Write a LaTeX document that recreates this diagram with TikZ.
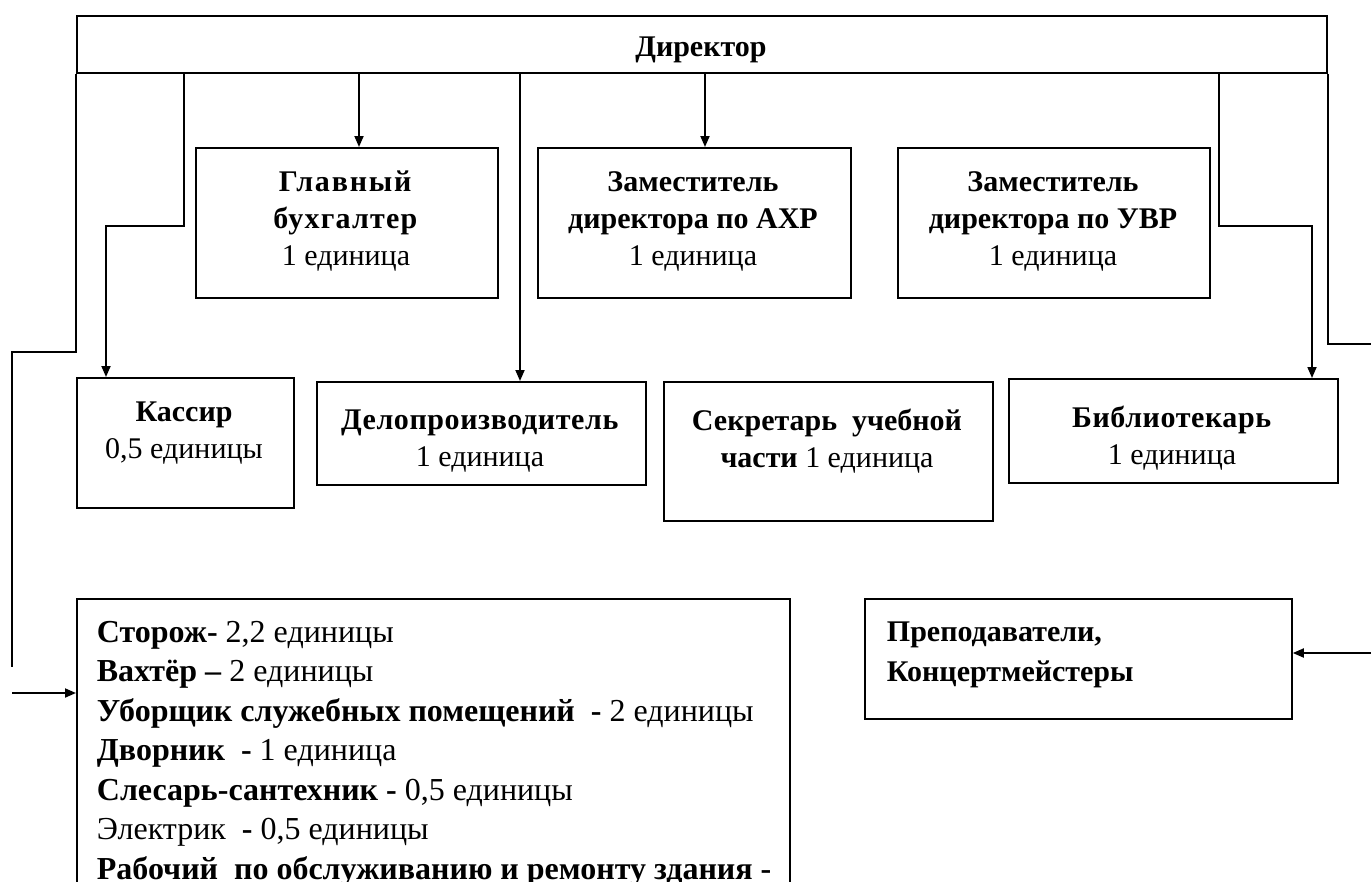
\documentclass[tikz,border=0pt]{standalone}
\usepackage{fontspec}
\setmainfont{Liberation Serif}
\usetikzlibrary{arrows.meta}
\begin{document}
\begin{tikzpicture}[x=1pt,y=-1pt,line width=1.8pt,
  box/.style={draw,rectangle,anchor=north west,inner sep=0pt},
  lbl/.style={align=center,inner sep=0pt,font=\fontsize{30}{37}\selectfont},
  arr/.style={-{Triangle[length=11pt,width=9pt]}}]
\useasboundingbox (0,0) rectangle (1371,881);
\begin{scope}
\clip (0,0) rectangle (1371,881);
% boxes
\node[box,minimum width=1250pt,minimum height=57pt] (dir) at (76,15) {};
\node[box,minimum width=302pt,minimum height=150pt] (glav) at (195,147) {};
\node[box,minimum width=313pt,minimum height=150pt] (ahr) at (537,147) {};
\node[box,minimum width=312pt,minimum height=150pt] (uvr) at (897,147) {};
\node[box,minimum width=217pt,minimum height=130pt] (kas) at (76,377) {};
\node[box,minimum width=329pt,minimum height=103pt] (delo) at (316,381) {};
\node[box,minimum width=329pt,minimum height=139pt] (sek) at (663,381) {};
\node[box,minimum width=329pt,minimum height=104pt] (bib) at (1008,378) {};
\node[box,minimum width=713pt,minimum height=400pt] (stor) at (76,598) {};
\node[box,minimum width=427pt,minimum height=120pt] (prep) at (864,598) {};
% texts
\node[lbl] (dirT) at (701,50) {\textbf{Директор}};
\node[lbl] (glavT) at (346,221) {{\addfontfeature{LetterSpace=6}\textbf{Главный}}\\{\addfontfeature{LetterSpace=4}\textbf{бухгалтер}}\\1 единица};
\node[lbl] (ahrT) at (693,221) {\textbf{Заместитель}\\\textbf{директора по АХР}\\1 единица};
\node[lbl] (uvrT) at (1053,221) {\textbf{Заместитель}\\\textbf{директора по УВР}\\1 единица};
\node[lbl] (kasT) at (184,433) {\textbf{Кассир}\\0,5 единицы};
\node[lbl] (deloT) at (480,441) {{\addfontfeature{LetterSpace=2}\textbf{Делопроизводитель}}\\1 единица};
\node[lbl] (sekT) at (827,441) {\textbf{Секретарь\ \ учебной}\\\textbf{части} 1 единица};
\node[lbl] (bibT) at (1172,438) {{\addfontfeature{LetterSpace=2}\textbf{Библиотекарь}}\\1 единица};
\node[lbl,align=left,anchor=west,font=\fontsize{30}{40}\selectfont] (prepT) at (886,655) {\textbf{Преподаватели,}\\\textbf{Концертмейстеры}};
\node[lbl,align=left,anchor=north west,font=\fontsize{32}{39.5}\selectfont] (storT) at (96,620) {%
\textbf{Сторож-} 2,2 единицы\\
\textbf{Вахтёр –} 2 единицы\\
\textbf{Уборщик служебных помещений\ \ -} 2 единицы\\
\textbf{Дворник\ \ -} 1 единица\\
\textbf{Слесарь-сантехник -} 0,5 единицы\\
Электрик\ \ \textbf{-} 0,5 единицы\\
\textbf{Рабочий\ \ по обслуживанию и ремонту здания -}};
% helper coordinates
\coordinate (l1) at (12,352);
\coordinate (l2) at (12,667);
\coordinate (l3) at (12,693);
\coordinate (k1) at (184,226);
\coordinate (k2) at (106,0);
\coordinate (g1) at (359,0);
\coordinate (d1) at (520,0);
\coordinate (a1) at (705,0);
\coordinate (b1) at (1219,226);
\coordinate (b2) at (1312,0);
\coordinate (r1) at (1371,344);
\coordinate (r2) at (1371,653);
% connectors
\draw (dir.south west) |- (l1) -- (l2);
\draw[arr] (l3) -- (stor.west |- l3);
\draw[arr] (dir.south -| k1) -- (k1) -| (kas.north -| k2);
\draw[arr] (dir.south -| g1) -- (glav.north -| g1);
\draw[arr] (dir.south -| d1) -- (delo.north -| d1);
\draw[arr] (dir.south -| a1) -- (ahr.north -| a1);
\draw[arr] (dir.south -| b1) -- (b1) -| (bib.north -| b2);
\draw (dir.south east) |- (r1);
\draw[arr] (r2) -- (prep.east |- r2);
\end{scope}
\end{tikzpicture}
\end{document}
